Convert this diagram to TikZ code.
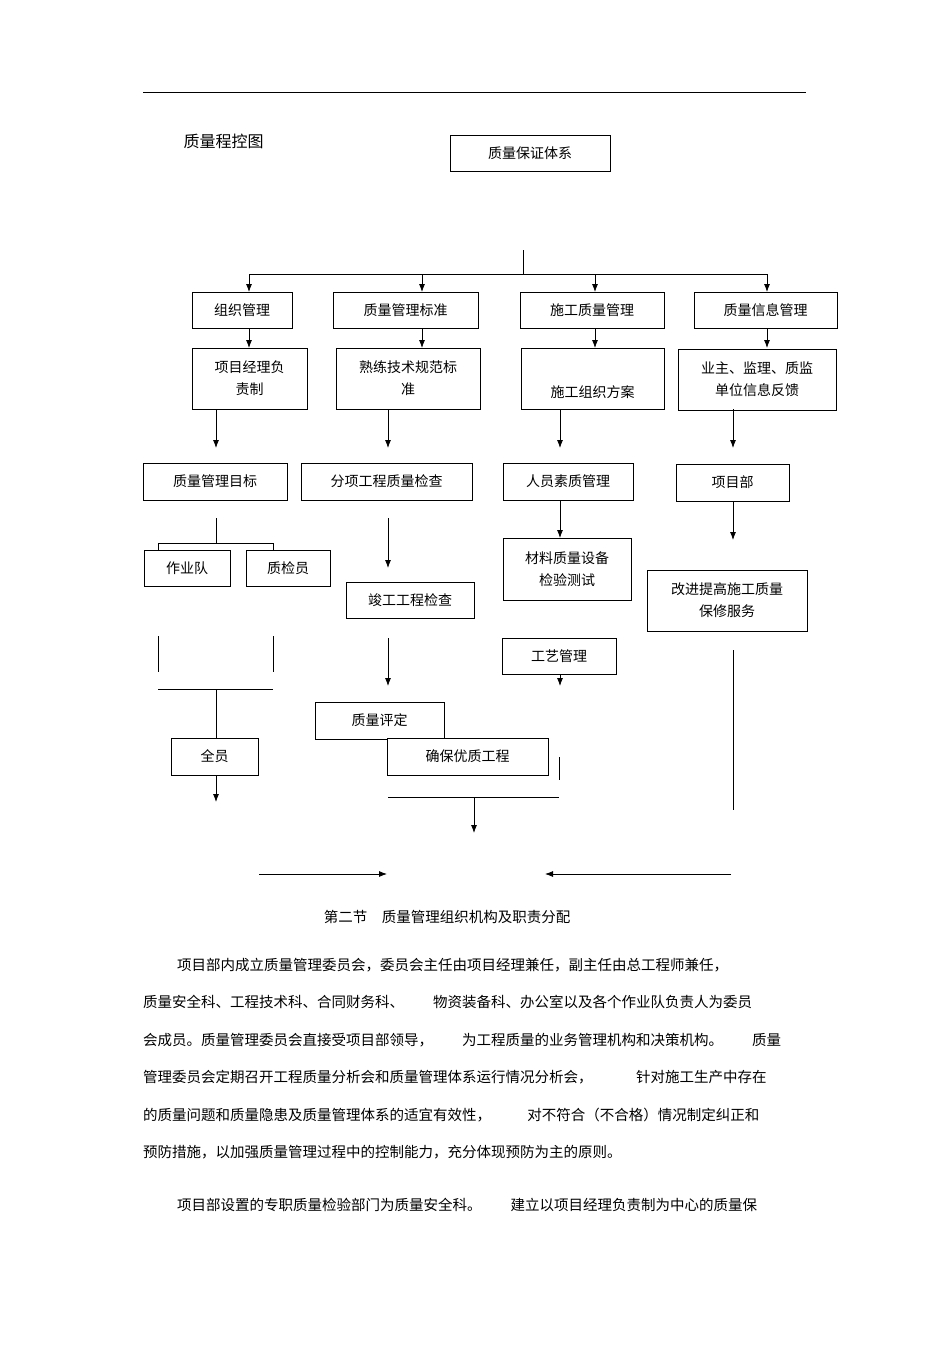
\documentclass[tikz,border=0pt]{standalone}
\usepackage{fontspec}
\setmainfont{Noto Sans CJK SC}
\usetikzlibrary{arrows.meta}
\begin{document}
\begin{tikzpicture}[x=1pt,y=-1pt,
 bx/.style={draw,line width=0.9pt,font=\fontsize{14}{22}\selectfont,align=center,inner sep=0},
 ln/.style={line width=0.8pt},
 ar/.style={line width=0.8pt,-{Latex[length=8pt,width=6pt]}},
 tx/.style={font=\fontsize{14.5}{18}\selectfont,anchor=west,inner sep=0}]
\useasboundingbox (0,0) rectangle (950,1345);
\draw[line width=0.6pt] (143,92) -- (806,92);
\node[font=\fontsize{16}{18}\selectfont,anchor=west] (title) at (180,141) {质量程控图};
\newcommand\bxn[6]{\node[bx,minimum width={#4-#2},minimum height={#5-#3}] (#1) at ({(#2+#4)/2},{(#3+#5)/2}) {#6};}
\bxn{top}{450}{135}{610}{171}{质量保证体系}
\bxn{a1}{192}{292}{292}{328}{组织管理}
\bxn{b1}{333}{292}{478}{328}{质量管理标准}
\bxn{c1}{520}{292}{664}{328}{施工质量管理}
\bxn{d1}{694}{292}{837}{328}{质量信息管理}
\bxn{a2}{192}{348}{307}{409}{项目经理负\\责制}
\bxn{b2}{336}{348}{480}{409}{熟练技术规范标\\准}
\node[bx,minimum width=143,minimum height=61,text height=40pt] (c2) at (592.5,378.5) {施工组织方案};
\bxn{d2}{678}{349}{836}{410}{业主、监理、质监\\单位信息反馈}
\bxn{a3}{143}{463}{287}{500}{质量管理目标}
\bxn{b3}{301}{463}{472}{500}{分项工程质量检查}
\bxn{c3}{503}{463}{633}{500}{人员素质管理}
\bxn{d3}{676}{464}{789}{501}{项目部}
\bxn{a4}{144}{550}{230}{586}{作业队}
\bxn{a5}{246}{550}{330}{586}{质检员}
\bxn{b4}{346}{582}{474}{618}{竣工工程检查}
\bxn{c4}{503}{538}{631}{600}{材料质量设备\\检验测试}
\bxn{d4}{647}{570}{807}{631}{改进提高施工质量\\保修服务}
\bxn{c5}{502}{638}{616}{674}{工艺管理}
\bxn{b5}{315}{702}{444}{739}{质量评定}
\node[bx,fill=white,minimum width=161,minimum height=37] (b6) at (467.5,756.5) {确保优质工程};
\bxn{a6}{171}{738}{258}{775}{全员}
% top tree
\coordinate (t0) at (523,250);
\draw[ln] (t0) -- (523,274);
\draw[ln] (249,274) -- (767,274);
\foreach \x/\n in {249/a1,422/b1,595/c1,767/d1}{
 \draw[ar] (\x,274) -- (\x,292);
 \draw[ar] (\x,328) -- (\x,348);}
\foreach \x in {216,388,560,733} \draw[ar] (\x,409) -- (\x,448);
\draw[ln] (216,518) -- (216,543);
\draw[ln] (158,550) -- (158,543) -- (273,543) -- (273,550);
\draw[ar] (388,518) -- (388,568);
\draw[ar] (c3.south -| 560,0) -- (560,538);
\draw[ar] (733,501) -- (733,540);
\draw[ln] (158,636) -- (158,672);
\draw[ln] (273,636) -- (273,672);
\draw[ln] (158,689) -- (273,689);
\draw[ln] (216,689) -- (a6.north -| 216,0);
\draw[ar] (216,775) -- (216,802);
\draw[ar] (388,638) -- (388,686);
\draw[ar] (560,674) -- (560,686);
\draw[ln] (733,650) -- (733,810);
\draw[ln] (559,757) -- (559,780);
\draw[ln] (388,797) -- (559,797);
\draw[ar] (474,797) -- (474,833);
\draw[ar] (259,874) -- (387,874);
\draw[ar] (731,874) -- (545,874);
% text
\node[font=\fontsize{14.5}{18}\selectfont] (sec) at (447,917) {第二节\hspace{1em}质量管理组织机构及职责分配};
\node[tx] (p1) at (177,965) {项目部内成立质量管理委员会，委员会主任由项目经理兼任，副主任由总工程师兼任，};
\node[tx] (p2) at (143,1002) {质量安全科、工程技术科、合同财务科、\hspace{2em}物资装备科、办公室以及各个作业队负责人为委员};
\node[tx] (p3) at (143,1040) {会成员。质量管理委员会直接受项目部领导，\hspace{2em}为工程质量的业务管理机构和决策机构。\hspace{2em}质量};
\node[tx] (p4) at (143,1077) {管理委员会定期召开工程质量分析会和质量管理体系运行情况分析会，\hspace{3em}针对施工生产中存在};
\node[tx] (p5) at (143,1115) {的质量问题和质量隐患及质量管理体系的适宜有效性，\hspace{2.5em}对不符合（不合格）情况制定纠正和};
\node[tx] (p6) at (143,1152) {预防措施，以加强质量管理过程中的控制能力，充分体现预防为主的原则。};
\node[tx] (p7) at (177,1205) {项目部设置的专职质量检验部门为质量安全科。\hspace{2em}建立以项目经理负责制为中心的质量保};
\end{tikzpicture}
\end{document}
